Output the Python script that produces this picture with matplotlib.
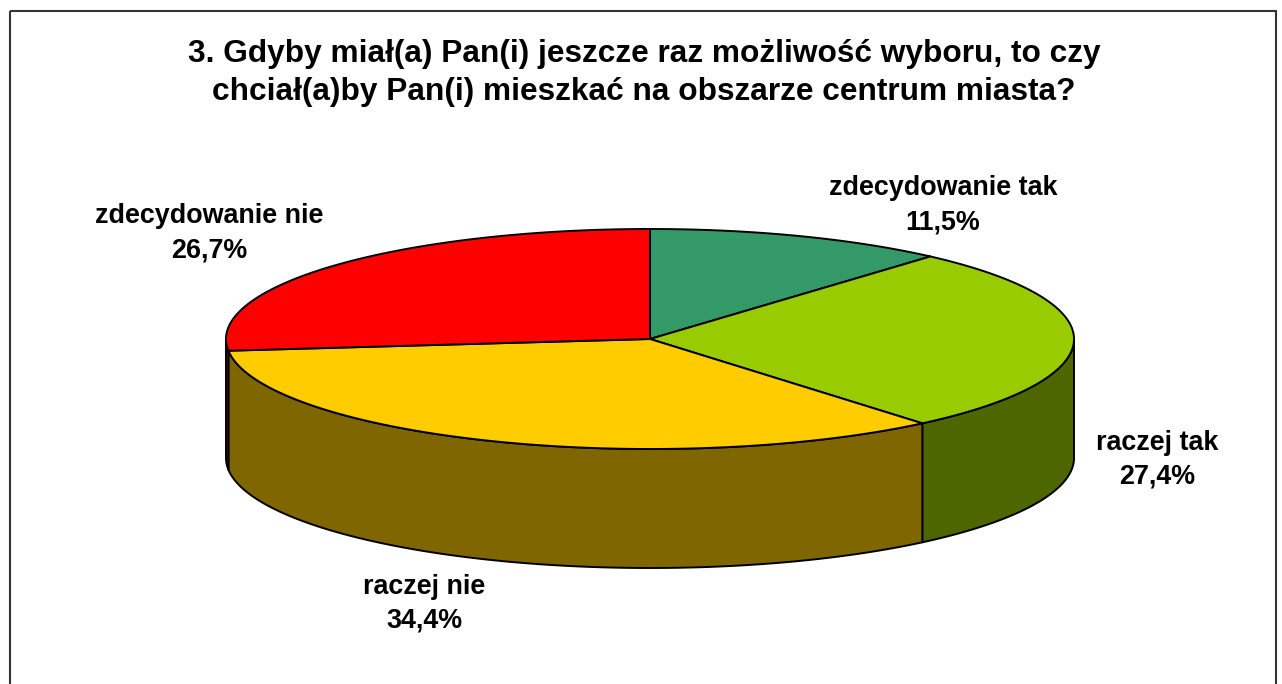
import numpy as np
import matplotlib
matplotlib.use("Agg")
import matplotlib.pyplot as plt
from matplotlib.patches import Polygon, Rectangle

W, H = 1282, 684
CX, CY, RX, RY, DEPTH = 650, 339, 424, 110, 119
FONT = ["Liberation Sans", "DejaVu Sans"]

title = "3. Gdyby miał(a) Pan(i) jeszcze raz możliwość wyboru, to czy\nchciał(a)by Pan(i) mieszkać na obszarze centrum miasta?"
categories = ["zdecydowanie tak", "raczej tak", "raczej nie", "zdecydowanie nie"]
shares = [11.5, 27.4, 34.4, 26.7]
top_colors = ["#339966", "#99CC00", "#FFCC00", "#FF0000"]
side_colors = ["#1A4D33", "#4D6600", "#806600", "#800000"]
label_pos = [(943, 205), (1157, 460), (424, 604), (209, 233)]


def rim(a0, a1, dy=0):
    t = np.radians(np.linspace(a0, a1, 200))
    return np.column_stack([CX + RX * np.sin(t), CY + dy - RY * np.cos(t)])


fig = plt.figure(figsize=(W / 100, H / 100), dpi=100, facecolor="white")
ax = fig.add_axes([0, 0, 1, 1])
ax.set_xlim(0, W)
ax.set_ylim(H, 0)
ax.axis("off")

ax.add_patch(Rectangle((10, 10.5), 1266, 700, fill=False, ec="#333333", lw=1.5))

edges = np.cumsum([0] + shares) / sum(shares) * 360

# side walls, only the part of the rim facing the viewer
for i in range(len(shares)):
    a0, a1 = max(edges[i], 90), min(edges[i + 1], 270)
    if a0 >= a1:
        continue
    upper = rim(a0, a1)
    lower = rim(a0, a1, DEPTH)
    ax.add_patch(Polygon(np.vstack([upper, lower[::-1]]), closed=True,
                         fc=side_colors[i], ec="black", lw=1.4, joinstyle="round"))

for i in range(len(shares)):
    pts = np.vstack([[CX, CY], rim(edges[i], edges[i + 1])])
    ax.add_patch(Polygon(pts, closed=True, fc=top_colors[i], ec="black", lw=1.4,
                         joinstyle="round"))

ax.text(644, 73, title, ha="center", va="center", fontsize=22.8, fontweight="bold",
        family=FONT, linespacing=1.34, color="black")

for name, val, (x, y) in zip(categories, shares, label_pos):
    txt = f"{name}\n{val:.1f}%".replace(".", ",")
    ax.text(x, y, txt, ha="center", va="center", fontsize=19.4, fontweight="bold",
            family=FONT, linespacing=1.4, color="black")

fig.savefig("out.png", dpi=100)
plt.close(fig)
